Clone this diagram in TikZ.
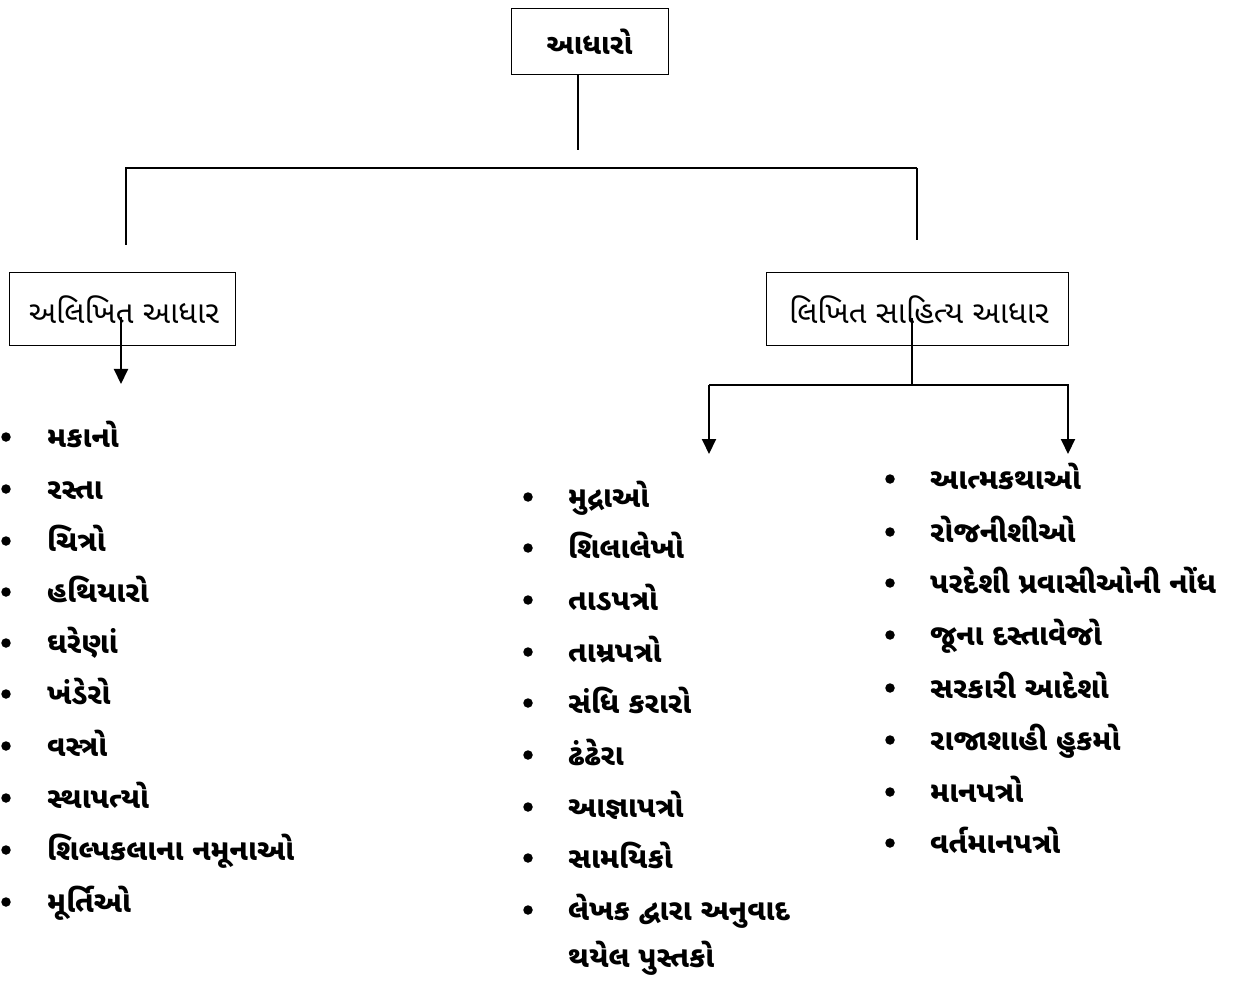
\documentclass[tikz,border=0pt]{standalone}
\usepackage{fontspec}
\newfontfamily\guj[Script=Gujarati]{Noto Sans Gujarati UI}
\usetikzlibrary{arrows.meta}
\begin{document}
\begin{tikzpicture}[x=1pt,y=-1pt,
  box/.style={draw, line width=1pt, inner sep=0pt, font=\guj\fontsize{31}{36}\selectfont},
  item/.style={anchor=base west, inner sep=0pt, font=\guj\bfseries\fontsize{29.5}{34}\selectfont},
  dot/.style={circle, fill=black, inner sep=0pt, minimum size=9.5pt},
  ln/.style={line width=1.3pt},
  arr/.style={line width=2pt, -{Triangle[length=15pt,width=14pt]}}]
\useasboundingbox (0,0) rectangle (1242,981);
% boxes
\node[box, minimum width=157pt, minimum height=66pt, font=\guj\bfseries\fontsize{28.5}{33}\selectfont] (top) at (589.5,42) {આધારો};
\node[box, minimum width=226pt, minimum height=73pt] (left) at (122,309.5) {\hspace*{4pt}અલિખિત આધાર};
\node[box, minimum width=302pt, minimum height=73pt] (right) at (917,309.5) {\hspace*{4pt}લિખિત સાહિત્ય આધાર};
% connectors
\coordinate (t1) at (578,150);
\coordinate (hl) at (125,168);
\coordinate (hr) at (917,168);
\coordinate (l1) at (126,245);
\coordinate (r1) at (917,240);
\draw[ln] (top.south -| t1) -- (t1);
\draw[ln] (hl) -- (hr);
\draw[ln] (126,168) -- (l1);
\draw[ln] (hr) -- (r1);
\coordinate (la) at (121,317);
\coordinate (lt) at (121,384);
\draw[arr] (la) -- (lt);
\coordinate (ra) at (912,318);
\coordinate (rb) at (912,385);
\coordinate (bl) at (709,385);
\coordinate (br) at (1068,385);
\coordinate (blt) at (709,454);
\coordinate (brt) at (1068,454);
\draw[ln] (ra) -- (rb);
\draw[ln] (bl) -- (1069,385);
\draw[arr] (bl) -- (blt);
\draw[arr] (br) -- (brt);
% left list
\foreach \y/\t [count=\i] in {437/મકાનો, 489/રસ્તા, 541/ચિત્રો, 592/હથિયારો, 643/ઘરેણાં, 694/ખંડેરો, 746/વસ્ત્રો, 798/સ્થાપત્યો, 850/શિલ્પકલાના નમૂનાઓ, 902/મૂર્તિઓ}{
  \node[dot] (ld\i) at (6,\y) {};
  \node[item] (li\i) at (47,\y+10) {\t};
}
% middle list
\foreach \y/\t [count=\i] in {497/મુદ્રાઓ, 548/શિલાલેખો, 600/તાડપત્રો, 652/તામ્રપત્રો, 703/સંધિ કરારો, 755/ઢંઢેરા, 807/આજ્ઞાપત્રો, 858/સામયિકો, 910/લેખક દ્વારા અનુવાદ}{
  \node[dot] (md\i) at (528,\y) {};
  \node[item] (mi\i) at (568,\y+10) {\t};
}
\node[item] (mi10) at (568,967) {થયેલ પુસ્તકો};
% right list
\foreach \y/\t [count=\i] in {479/આત્મકથાઓ, 532/રોજનીશીઓ, 583/પરદેશી પ્રવાસીઓની નોંધ, 635/જૂના દસ્તાવેજો, 688/સરકારી આદેશો, 740/રાજાશાહી હુકમો, 792/માનપત્રો, 843/વર્તમાનપત્રો}{
  \node[dot] (rd\i) at (890,\y) {};
  \node[item] (ri\i) at (930,\y+10) {\t};
}
\end{tikzpicture}
\end{document}
